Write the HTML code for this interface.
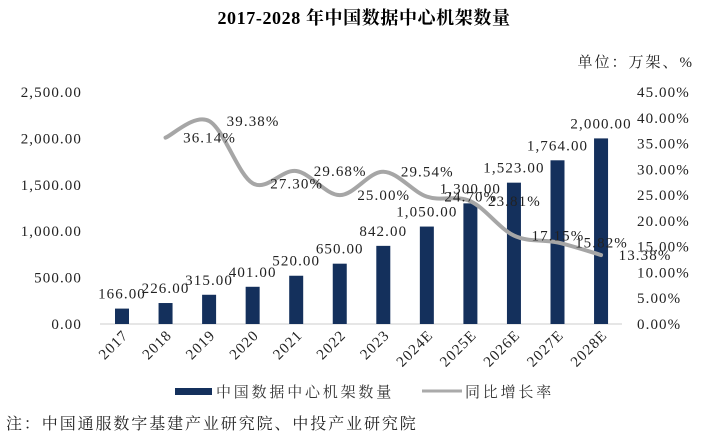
<!DOCTYPE html>
<html><head><meta charset="utf-8"><style>
body{margin:0;background:#fff;width:727px;height:442px;overflow:hidden}
svg text{font-family:"Liberation Serif","Noto Serif CJK SC",serif}
</style></head><body>
<svg width="727" height="442" id="c">
<text x="364" y="24" text-anchor="middle" font-size="18" font-weight="bold" letter-spacing="0.6">2017-2028 年中国数据中心机架数量</text>
<text x="694" y="67" text-anchor="end" font-size="15" letter-spacing="2" fill="#222">单位：万架、%</text>
<line x1="100" y1="324" x2="622" y2="324" stroke="#ccc"/>
<g id="g"></g>
<rect x="175" y="388" width="37" height="7" fill="#14305c"/>
<text x="216" y="397" font-size="15" letter-spacing="2.8" fill="#333">中国数据中心机架数量</text>
<line x1="422" y1="391" x2="462" y2="391" stroke="#aaa" stroke-width="3"/>
<text x="465" y="397" font-size="15" letter-spacing="2.8" fill="#333">同比增长率</text>
<text x="6" y="429" font-size="16" letter-spacing="1.9" fill="#222">注：中国通服数字基建产业研究院、中投产业研究院</text>
</svg>
<script>
const categories=["2017","2018","2019","2020","2021","2022","2023","2024E","2025E","2026E","2027E","2028E"];
const barValues=[166,226,315,401,520,650,842,1050,1300,1523,1764,2000];
const barLabels=["166.00","226.00","315.00","401.00","520.00","650.00","842.00","1,050.00","1,300.00","1,523.00","1,764.00","2,000.00"];
const rateValues=[null,36.14,39.38,27.30,29.68,25.00,29.54,24.70,23.81,17.15,15.82,13.38];
const leftTicks=[0,500,1000,1500,2000,2500];
const rightTicks=[0,5,10,15,20,25,30,35,40,45];
const fmt=v=>v.toLocaleString('en-US',{minimumFractionDigits:2,maximumFractionDigits:2});
const X=i=>122+i*43.55, Y=v=>324-v/2500*232, R=v=>324-v/45*232;
const g=document.getElementById('g'),NS="http://www.w3.org/2000/svg";
function mk(t,a,txt){const e=document.createElementNS(NS,t);for(const k in a)e.setAttribute(k,a[k]);if(txt!=null)e.textContent=txt;g.appendChild(e);return e;}
const TS={'font-size':15,'letter-spacing':1.1,fill:'#222'};
leftTicks.forEach(v=>{const e=mk('text',Object.assign({x:82,y:Y(v)+5,'text-anchor':'end'},TS),fmt(v));

});
rightTicks.forEach(v=>{const e=mk('text',Object.assign({x:637,y:R(v)+5},TS),v.toFixed(2)+'%');

});
categories.forEach((c,i)=>{
const b=mk('rect',{x:X(i)-7,y:Y(barValues[i]),width:14,height:324-Y(barValues[i]),fill:'#14305c'});


const t=mk('text',Object.assign({x:X(i),y:Y(barValues[i])-10,'text-anchor':'middle'},TS),barLabels[i]);


const xl=mk('text',Object.assign({x:X(i)+7,y:336,'text-anchor':'end',transform:`rotate(-45 ${X(i)+7} 336)`},TS),c);

});
const pts=[];rateValues.forEach((v,i)=>{if(v!=null)pts.push([X(i),R(v),v]);});
let d=`M${pts[0][0]},${pts[0][1]}`;
for(let i=0;i<pts.length-1;i++){const p0=pts[Math.max(0,i-1)],p1=pts[i],p2=pts[i+1],p3=pts[Math.min(pts.length-1,i+2)];
d+=` C${p1[0]+(p2[0]-p0[0])/6},${p1[1]+(p2[1]-p0[1])/6} ${p2[0]-(p3[0]-p1[0])/6},${p2[1]-(p3[1]-p1[1])/6} ${p2[0]},${p2[1]}`;}
const ln=mk('path',{d:d,fill:'none',stroke:'#a6a6a6','stroke-width':4,'stroke-linecap':'round'});


pts.forEach(p=>{const t=mk('text',Object.assign({x:p[0]+44,y:p[1]+5,'text-anchor':'middle'},TS),p[2].toFixed(2)+'%');

});
</script>
</body></html>
